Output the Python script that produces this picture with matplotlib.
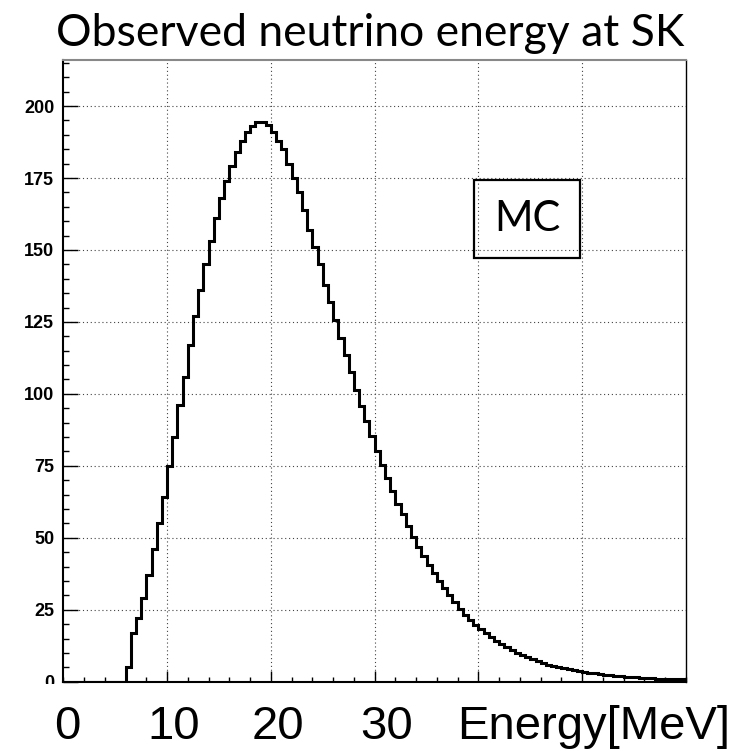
import numpy as np
import matplotlib
matplotlib.use('Agg')
import matplotlib.pyplot as plt
from matplotlib.patches import Rectangle

# histogram of observed energy, 0.5 MeV bins from 0 to 60 MeV
bin_width = 0.5
counts = [
  0, 0, 0, 0, 0, 0, 0, 0, 0, 0, 0, 0,
  5, 17, 22, 29, 37, 46, 55, 64, 75, 85,
  96, 106, 117, 127, 136, 145, 153, 161, 168, 174,
  179, 184, 188, 191, 193, 194.5, 194.5, 193.5, 191, 188,
  185, 180, 175, 170, 164, 157, 151, 145, 138, 132,
  125.5, 119.3, 113.4, 107.6, 101.5, 95.7, 90.6, 85.3, 80.2, 75.4,
  70.7, 66.1, 61.9, 58.1, 54.2, 50.3, 46.9, 43.6, 40.5, 37.6,
  35.1, 32.5, 30.1, 27.6, 25.2, 23.2, 21.4, 19.7, 18.2, 16.8,
  15.4, 14.2, 13.1, 11.9, 11.0, 10.1, 9.3, 8.5, 7.8, 7.1,
  6.4, 5.9, 5.4, 5.0, 4.6, 4.3, 4.0, 3.7, 3.4, 3.1,
  2.9, 2.7, 2.5, 2.3, 2.1, 1.9, 1.8, 1.6, 1.5, 1.4,
  1.3, 1.2, 1.1, 1.0, 0.95, 0.9, 0.85, 0.8,
]
y_ticks = [0, 25, 50, 75, 100, 125, 150, 175, 200]
x_grid = [10, 20, 30, 40, 50]
x_labels = ['0', '10', '20', '30']
x_label_pos = [0.4, 10.6, 20.7, 31.2]
title = 'Observed neutrino energy at SK'
box_text = 'MC'

W, H = 743, 751
fig = plt.figure(figsize=(W / 100.0, H / 100.0), dpi=100)
ax = fig.add_axes([63.3 / W, 1 - 681.7 / H, (686 - 63.3) / W, (681.7 - 60) / H])

edges = np.arange(len(counts) + 1) * bin_width
ax.stairs(counts, edges, baseline=None, color='black', lw=2.2, zorder=3)

ax.set_xlim(0, 60)
ax.set_ylim(0, 216)

ax.set_xticks(x_grid)
ax.set_xticks(np.arange(0, 61, 2), minor=True)
ax.set_yticks(y_ticks)
ax.set_yticks(np.arange(0, 216, 5), minor=True)
ax.set_yticklabels([str(v) for v in y_ticks], fontsize=13, fontweight='bold',
                   family='Liberation Sans')
ax.tick_params(axis='x', which='both', direction='in', labelbottom=False, color='black')
ax.tick_params(axis='x', which='major', length=8, width=1.0)
ax.tick_params(axis='x', which='minor', length=3.6, width=1.0)
ax.tick_params(axis='y', which='major', direction='in', length=10.5, width=1.0, pad=6.5)
ax.tick_params(axis='y', which='minor', direction='in', length=4.3, width=1.0)

ax.grid(True, which='major', color='#444444', linestyle=(0, (1, 2.5)), lw=0.8, zorder=1)
ax.set_axisbelow(True)

ax.spines['top'].set_color('#888888')
ax.spines['top'].set_linewidth(1.5)
ax.spines['right'].set_linewidth(1.0)
ax.spines['left'].set_linewidth(1.5)
ax.spines['bottom'].set_linewidth(1.5)

# boxed label
ax.add_patch(Rectangle((39.6, 147.2), 10.2, 27.0, fill=False, ec='black', lw=1.6, zorder=4))
ax.text(44.7, 160.7, box_text, ha='center', va='center', fontsize=30, family='Lato', zorder=5)

# white strip over the original axis labels, as in the reference
fig.add_artist(Rectangle((0, 0), 1, 1 - 683.5 / H, transform=fig.transFigure,
                         fc='white', ec='none', zorder=5))

tr = matplotlib.transforms.blended_transform_factory(ax.transData, fig.transFigure)
for lab, xp in zip(x_labels, x_label_pos):
  fig.text(xp, 1 - 739 / H, lab, ha='center', va='baseline', fontsize=34,
           family='Liberation Sans', transform=tr, zorder=10)
fig.text(457.0 / W, 1 - 739 / H, 'Energy[MeV]', ha='left', va='baseline', fontsize=34,
         family='Liberation Sans', zorder=10)

fig.text(370.0 / W, 1 - 46 / H, title, ha='center', va='baseline', fontsize=32,
         family='Lato', zorder=10)

plt.savefig('out.png', dpi=100)
